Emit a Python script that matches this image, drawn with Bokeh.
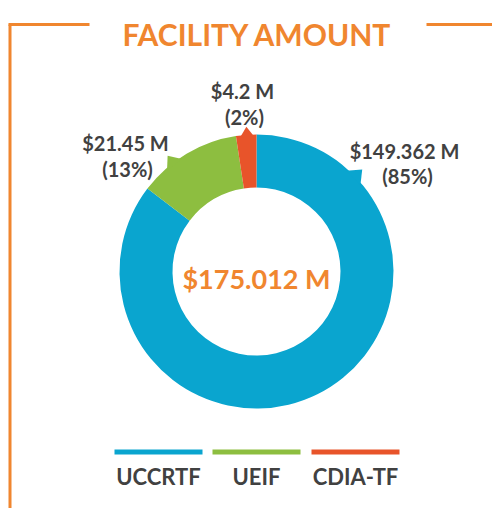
import math
from bokeh.plotting import figure
from bokeh.models import Range1d
from bokeh.core.properties import value
from bokeh.embed import file_html
from bokeh.resources import INLINE

# ---------------- data ----------------
categories = ["UCCRTF", "UEIF", "CDIA-TF"]
amounts = [149.362, 21.45, 4.2]          # $ million
pct_labels = ["85%", "13%", "2%"]
title_text = "FACILITY AMOUNT"

# ---------------- style ----------------
colors = ["#0AA5CF", "#8DBE40", "#E8542A"]
ORANGE = "#F0862F"
GREY = "#414141"
FONT = value("Lato")

W, H = 492, 508
def px(x):  # picture x -> data x
    return x
def py(y):  # picture y -> data y
    return H - y

p = figure(width=W, height=H, output_backend="svg", toolbar_location=None,
           x_range=Range1d(0, W), y_range=Range1d(0, H), min_border=0)
p.axis.visible = False
p.grid.visible = False
p.outline_line_color = None
p.background_fill_color = "white"
p.border_fill_color = "white"

# ---- frame lines & title ----
p.line([px(8), px(89)], [py(24), py(24)], line_color=ORANGE, line_width=3)
p.line([px(9.5), px(9.5)], [py(24), py(520)], line_color=ORANGE, line_width=3)
p.line([px(426), px(500)], [py(24), py(24)], line_color=ORANGE, line_width=3)
p.text(x=[px(257)], y=[py(33)], text=[title_text], text_font=FONT,
       text_font_size="30px", text_font_style="bold", text_color=ORANGE,
       text_align="center", text_baseline="alphabetic")

# ---- donut ----
cx, cy = px(256), py(271)
R_OUT, R_IN = 137, 84
total = sum(amounts)
starts, ends = [], []
a = math.pi / 2
for v in reversed(amounts):
    span = v / total * 2 * math.pi
    starts.append(a)
    ends.append(a + span)
    a += span
starts = list(reversed(starts))
ends = list(reversed(ends))
p.annular_wedge(x=cx, y=cy, inner_radius=R_IN, outer_radius=R_OUT,
                start_angle=starts, end_angle=ends, fill_color=colors,
                line_color=None)

# small callout tabs on the outer edge (angle deg, half width deg, tip radius)
tabs = [(44.0, 4.3, 147), (127.5, 4.0, 146), (94.0, 3.0, 145)]
for (ang, hw, rt), col in zip(tabs, colors):
    a0, a1, am = math.radians(ang - hw), math.radians(ang + hw), math.radians(ang)
    xs = [cx + (R_OUT - 2) * math.cos(a0), cx + rt * math.cos(am),
          cx + (R_OUT - 2) * math.cos(a1)]
    ys = [cy + (R_OUT - 2) * math.sin(a0), cy + rt * math.sin(am),
          cy + (R_OUT - 2) * math.sin(a1)]
    p.patch(xs, ys, fill_color=col, line_color=None)

# ---- value labels ----
label_pos = [(404, 150, 407, 175), (125, 142, 127, 168), (242, 90, 244, 116)]
for (x1, y1, x2, y2), amt, pc in zip(label_pos, amounts, pct_labels):
    p.text(x=[px(x1)], y=[py(y1)], text=[f"${amt:g} M"], text_font=FONT,
           text_font_size="20px", text_font_style="bold", text_color=GREY,
           text_align="center", text_baseline="alphabetic")
    p.text(x=[px(x2)], y=[py(y2)], text=[f"({pc})"], text_font=FONT,
           text_font_size="20px", text_font_style="bold", text_color=GREY,
           text_align="center", text_baseline="alphabetic")

# ---- centre total ----
p.text(x=[cx], y=[py(278)], text=[f"${total:.3f} M"], text_font=FONT,
       text_font_size="27px", text_font_style="bold", text_color=ORANGE,
       text_align="center", text_baseline="alphabetic")

# ---- legend ----
leg_centers = [158, 256, 355]
for c, col, name in zip(leg_centers, colors, categories):
    p.rect(x=[px(c)], y=[py(451.5)], width=88, height=5, fill_color=col,
           line_color=None)
    p.text(x=[px(c)], y=[py(476)], text=[name], text_font=FONT,
           text_font_size="22px", text_font_style="bold", text_color=GREY,
           text_align="center", text_baseline="alphabetic")

open("out.html", "w").write(file_html(p, INLINE))
